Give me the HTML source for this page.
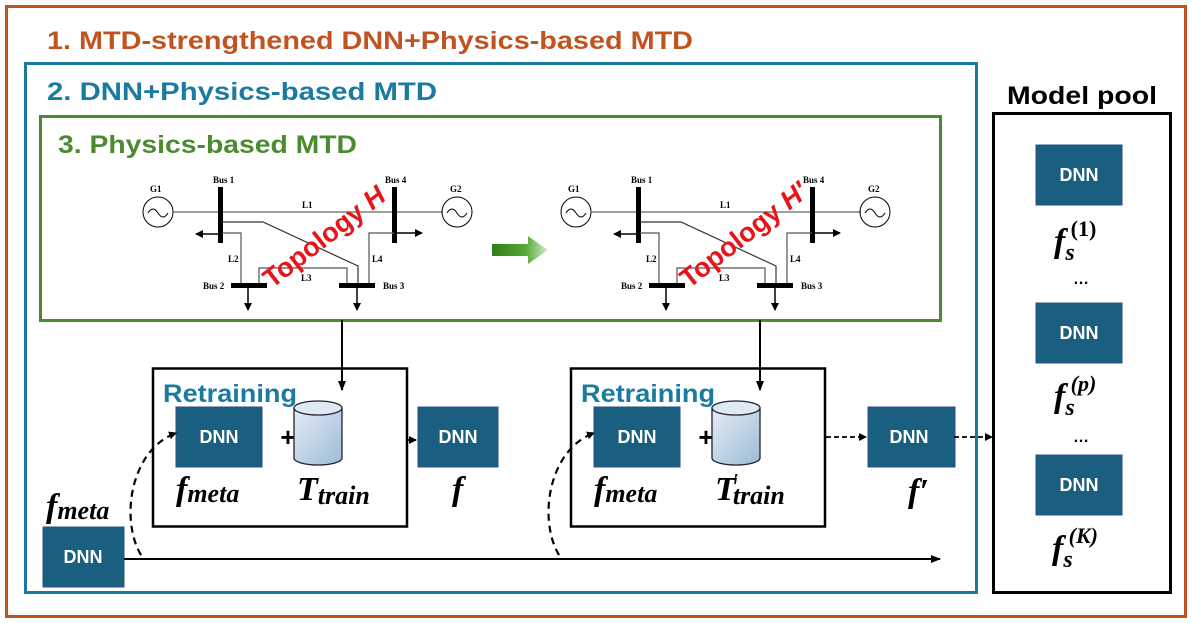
<!DOCTYPE html>
<html><head><meta charset="utf-8"><style>
body{margin:0;background:#fff}
svg{display:block}
.t{font-family:"Liberation Sans",sans-serif;font-weight:bold}
.g{font-family:"Liberation Serif",serif;font-size:9px;font-weight:bold}
.m{font-family:"Liberation Serif",serif;font-weight:bold;font-style:italic}
.dnn{fill:#1a5e80;stroke:#2a4f8a;stroke-width:1}
.dt{font-family:"Liberation Sans",sans-serif;font-weight:bold;fill:#fff;font-size:18px}
</style></head><body>
<svg width="1192" height="623" viewBox="0 0 1192 623" xmlns="http://www.w3.org/2000/svg">
<defs>
<marker id="a" markerWidth="8" markerHeight="8" refX="7" refY="4" orient="auto" markerUnits="userSpaceOnUse"><path d="M0,0L8,4L0,8z" fill="#000"/></marker>
<marker id="s" markerWidth="10" markerHeight="8" refX="9" refY="4" orient="auto" markerUnits="userSpaceOnUse"><path d="M0,0L10,4L0,8z" fill="#000"/></marker>
<linearGradient id="cy" x1="0" y1="0" x2="1" y2="1"><stop offset="0" stop-color="#e4edf5"/><stop offset="1" stop-color="#9dbbd6"/></linearGradient>
<linearGradient id="ga" x1="0" x2="1"><stop offset="0" stop-color="#2f7d1c"/><stop offset="0.6" stop-color="#55a832"/><stop offset="1" stop-color="#d8ecd0"/></linearGradient>
<g id="grid">
<circle cx="158" cy="212" r="15" fill="none" stroke="#000" stroke-width="1"/>
<path d="M148,213 q5,-8 10,0 q5,8 10,0" fill="none" stroke="#000"/>
<text x="150" y="192" class="g">G1</text>
<line x1="173" y1="212" x2="443" y2="212" stroke="#666" stroke-width="1.2"/>
<rect x="218" y="187" width="5" height="56" fill="#000"/>
<text x="213" y="183" class="g">Bus 1</text>
<line x1="220" y1="234" x2="196" y2="234" stroke="#000" stroke-width="1.5" marker-end="url(#a)"/>
<rect x="392" y="187" width="5" height="56" fill="#000"/>
<text x="385" y="183" class="g">Bus 4</text>
<line x1="396" y1="233" x2="422" y2="233" stroke="#000" stroke-width="1.5" marker-end="url(#a)"/>
<circle cx="457" cy="212" r="15" fill="none" stroke="#000"/>
<path d="M447,213 q5,-8 10,0 q5,8 10,0" fill="none" stroke="#000"/>
<text x="450" y="192" class="g">G2</text>
<text x="302" y="208" class="g">L1</text>
<path d="M222,222 L263,222 L358,266 L358,284" fill="none" stroke="#333" stroke-width="1.2"/>
<path d="M222,233 L241,233 L241,284" fill="none" stroke="#555" stroke-width="1.2"/>
<path d="M259,284 L259,268 L347,268 L347,284" fill="none" stroke="#555" stroke-width="1.2"/>
<path d="M394,233 L369,233 L369,284" fill="none" stroke="#555" stroke-width="1.2"/>
<text x="228" y="262" class="g">L2</text>
<text x="301" y="281" class="g">L3</text>
<text x="372" y="262" class="g">L4</text>
<rect x="231" y="283" width="36" height="5" fill="#000"/>
<rect x="339" y="283" width="36" height="5" fill="#000"/>
<text x="203" y="289" class="g">Bus 2</text>
<text x="383" y="289" class="g">Bus 3</text>
<line x1="248" y1="288" x2="248" y2="310" stroke="#000" stroke-width="1.5" marker-end="url(#a)"/>
<line x1="357" y1="288" x2="357" y2="310" stroke="#000" stroke-width="1.5" marker-end="url(#a)"/>
</g>
</defs>
<rect x="6.5" y="6.5" width="1179" height="610" fill="none" stroke="#c0531f" stroke-width="3"/>
<text x="47" y="49" class="t" font-size="25" fill="#c0531f" textLength="646" lengthAdjust="spacingAndGlyphs">1. MTD-strengthened DNN+Physics-based MTD</text>
<rect x="25.5" y="63.5" width="951" height="529" fill="none" stroke="#1a7aa0" stroke-width="3"/>
<text x="47" y="100" class="t" font-size="25" fill="#1a7aa0" textLength="390" lengthAdjust="spacingAndGlyphs">2. DNN+Physics-based MTD</text>
<rect x="40.5" y="116.5" width="900" height="204" fill="none" stroke="#4b8a2e" stroke-width="3"/>
<text x="58" y="153" class="t" font-size="25" fill="#4b8a2e" textLength="299" lengthAdjust="spacingAndGlyphs">3. Physics-based MTD</text>
<use href="#grid"/>
<use href="#grid" transform="translate(418,0)"/>
<text x="0" y="0" class="t" font-size="27" fill="#e8141a" transform="translate(272,289) rotate(-38)">Topology <tspan font-style="italic">H</tspan></text>
<text x="0" y="0" class="t" font-size="27" fill="#e8141a" transform="translate(689,289) rotate(-38)">Topology <tspan font-style="italic">H′</tspan></text>
<path d="M492,244 h36 v-8 l20,14 l-20,14 v-8 h-36z" fill="url(#ga)"/>
<!-- model pool -->
<text x="1007" y="104" class="t" font-size="25" textLength="150" lengthAdjust="spacingAndGlyphs">Model pool</text>
<rect x="993.5" y="113.5" width="177" height="479" fill="none" stroke="#000" stroke-width="3"/>
<rect x="1036" y="145" width="86" height="60" class="dnn"/><text x="1079" y="181" class="dt" text-anchor="middle">DNN</text>
<rect x="1036" y="303" width="86" height="60" class="dnn"/><text x="1079" y="339" class="dt" text-anchor="middle">DNN</text>
<rect x="1036" y="455" width="86" height="60" class="dnn"/><text x="1079" y="491" class="dt" text-anchor="middle">DNN</text>
<text x="1054" y="252" class="m" font-size="34">f<tspan font-size="24" dy="8">s</tspan><tspan font-size="22" font-style="normal" dy="-24" dx="-4">(1)</tspan></text>
<text x="1081" y="284" class="t" font-size="16" text-anchor="middle">…</text>
<text x="1054" y="407" class="m" font-size="34">f<tspan font-size="24" dy="8">s</tspan><tspan font-size="22" dy="-24" dx="-4">(p)</tspan></text>
<text x="1081" y="442" class="t" font-size="16" text-anchor="middle">…</text>
<text x="1052" y="559" class="m" font-size="34">f<tspan font-size="24" dy="8">s</tspan><tspan font-size="22" dy="-24" dx="-4">(K)</tspan></text>
<!-- retraining boxes -->
<g id="rt">
<rect x="153" y="368.5" width="254" height="158" fill="none" stroke="#000" stroke-width="2.5"/>
<text x="163" y="402" class="t" font-size="25" fill="#1a7aa0" textLength="134" lengthAdjust="spacingAndGlyphs">Retraining</text>
<rect x="176" y="407" width="86" height="60" class="dnn"/><text x="219" y="443" class="dt" text-anchor="middle">DNN</text>
<text x="288" y="446" class="t" font-size="26" text-anchor="middle">+</text>
<path d="M294,408 v50 a24,7 0 0 0 48,0 v-50z" fill="url(#cy)" stroke="#223" stroke-width="1.3"/>
<ellipse cx="318" cy="408" rx="24" ry="7" fill="#dfe9f2" stroke="#223" stroke-width="1.3"/>
<text x="176" y="500" class="m" font-size="34">f<tspan font-size="26" dy="2">meta</tspan></text>
<line x1="342" y1="320" x2="342" y2="390" stroke="#000" stroke-width="2" marker-end="url(#s)"/>
<path d="M141,555 C120,520 130,450 176,433" fill="none" stroke="#000" stroke-width="2.2" stroke-dasharray="7,5" marker-end="url(#a)"/>
</g>
<use href="#rt" transform="translate(418,0)"/>
<text x="297" y="500" class="m" font-size="34">T<tspan font-size="26" dy="4">train</tspan></text>
<text x="715" y="500" class="m" font-size="34">T<tspan font-size="18" dy="-14" dx="-2" font-style="normal">′</tspan><tspan font-size="26" dy="18" dx="-6">train</tspan></text>
<rect x="418" y="407" width="80" height="60" class="dnn"/><text x="458" y="443" class="dt" text-anchor="middle">DNN</text>
<text x="452" y="500" class="m" font-size="34">f</text>
<rect x="868" y="407" width="87" height="60" class="dnn"/><text x="909" y="443" class="dt" text-anchor="middle">DNN</text>
<text x="908" y="502" class="m" font-size="34">f′</text>
<line x1="408" y1="440" x2="416" y2="440" stroke="#000" stroke-width="1.8" stroke-dasharray="4,3" marker-end="url(#a)"/>
<line x1="826" y1="437" x2="866" y2="437" stroke="#000" stroke-width="1.8" stroke-dasharray="5,3" marker-end="url(#a)"/>
<line x1="954" y1="437" x2="992" y2="437" stroke="#000" stroke-width="1.8" stroke-dasharray="5,3" marker-end="url(#a)"/>
<!-- f_meta -->
<text x="46" y="517" class="m" font-size="34">f<tspan font-size="26" dy="2">meta</tspan></text>
<rect x="43" y="527" width="81" height="60" class="dnn"/><text x="83" y="563" class="dt" text-anchor="middle">DNN</text>
<line x1="124" y1="559" x2="940" y2="559" stroke="#000" stroke-width="2" marker-end="url(#s)"/>
</svg>
</body></html>
